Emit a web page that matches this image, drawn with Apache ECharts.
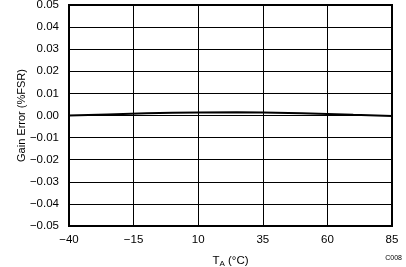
<!DOCTYPE html>
<html><head><meta charset="utf-8">
<script src="https://cdn.jsdelivr.net/npm/echarts@6/dist/echarts.min.js"></script>
<style>html,body{margin:0;padding:0;background:#fff}#c{width:406px;height:267px}</style>
</head><body><div id="c"></div>
<script>
const temps = [-40, -25, -10, 0, 10, 25, 35, 50, 60, 70, 85];
const gainError = [0.0000, 0.0005, 0.0010, 0.0012, 0.0014, 0.0015, 0.0014, 0.0010, 0.0007, 0.0003, -0.0002];
const xTicks = [-40, -15, 10, 35, 60, 85];
const yTicks = [-0.05, -0.04, -0.03, -0.02, -0.01, 0, 0.01, 0.02, 0.03, 0.04, 0.05];
const fmt = v => { const s = Math.abs(v).toFixed(2); return (v < -1e-9 ? '\u2212' : '') + s; };
const font = 'Liberation Sans, Arial, sans-serif';
const chart = echarts.init(document.getElementById('c'), null, {renderer: 'canvas'});
chart.setOption({
  animation: false,
  grid: {left: 69, right: 14, top: 5, bottom: 41, outerBoundsMode: 'none', containLabel: false, show: true, borderColor: '#000', borderWidth: 2, backgroundColor: 'transparent'},
  xAxis: {
    type: 'value', min: -40, max: 85, interval: 25,
    axisLine: {show: false}, axisTick: {show: false},
    splitLine: {show: true, lineStyle: {color: '#000', width: 1}},
    axisLabel: {color: '#000', fontFamily: font, fontSize: 11.5, margin: 8, formatter: v => fmt(v).replace('.00','')},
    name: 'T{s|A} (\u00B0C)', nameLocation: 'middle', nameGap: 28, nameMoveOverlap: false,
    nameTextStyle: {color: '#000', fontFamily: font, fontSize: 11.5, rich: {s: {fontSize: 8, fontFamily: font, color: '#000', verticalAlign: 'bottom', padding: [6,0,0,0]}}}
  },
  yAxis: {
    type: 'value', min: -0.05, max: 0.05, interval: 0.01,
    axisLine: {show: false}, axisTick: {show: false},
    splitLine: {show: true, lineStyle: {color: '#000', width: 1}},
    axisLabel: {color: '#000', fontFamily: font, fontSize: 11.5, margin: 10, formatter: v => fmt(v)},
    name: 'Gain Error (%FSR)', nameLocation: 'middle', nameGap: 42, nameMoveOverlap: false,
    nameTextStyle: {color: '#000', fontFamily: font, fontSize: 11}
  },
  graphic: [{type: 'text', right: 4, bottom: 5, style: {text: 'C008', fill: '#000', font: '7px ' + font}}],
  series: [{
    type: 'line', data: temps.map((t, i) => [t, gainError[i]]),
    showSymbol: false, lineStyle: {color: '#000', width: 2}, smooth: false
  }]
});
</script></body></html>
